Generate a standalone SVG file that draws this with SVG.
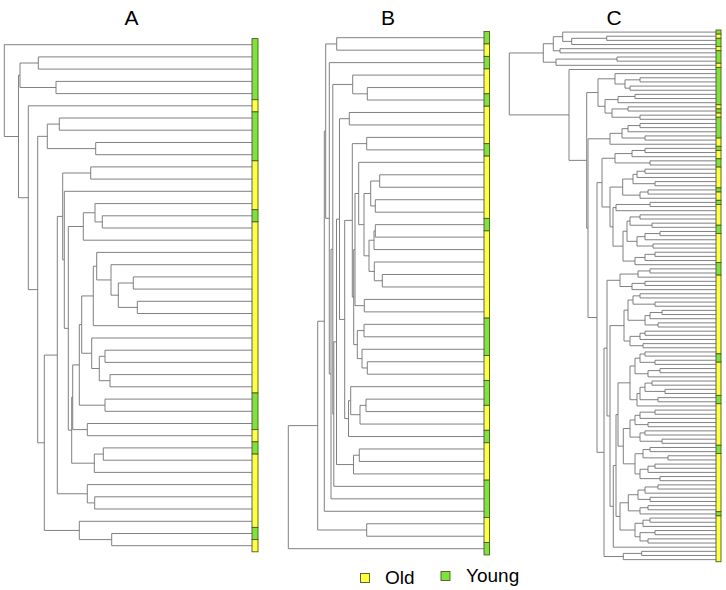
<svg xmlns="http://www.w3.org/2000/svg" width="726" height="590" viewBox="0 0 726 590">
<style>
.t{fill:none;stroke:#737373;stroke-width:0.9}
.y{fill:#ffff45;stroke:#4d5a1e;stroke-width:0.9}
.g{fill:#80e23e;stroke:#4d5a1e;stroke-width:0.9}
.lbl{font-family:"Liberation Sans",Arial,sans-serif;fill:#000}
</style>
<rect width="726" height="590" fill="#fff"/>
<g id="titles" class="lbl" font-size="21" text-anchor="middle">
<text x="131.5" y="25">A</text>
<text x="388" y="25">B</text>
<text x="614" y="25">C</text>
</g>
<g id="connectors">
<g id="tree-A" class="t">
<path d="M252 44.7H4.3V136.5H18.5M20 75.25H18.5V197.7H28.3M38.3 63H20V87.5H56M252 56.9H38.3V69.1H252M252 81.4H56V93.6H252M252 105.8H28.3V289.6H37.7M47.3 136.35H37.7V442.8H44.3M59.3 124.1H47.3V148.6H95.7M252 118H59.3V130.2H252M252 142.5H95.7V154.7H252M57.3 355.1H44.3V530.45H79.3M252 521.3H79.3V539.6H111.7M252 533.5H111.7V545.7H252M62.7 216.4H57.3V493.75H87.3M252 484.6H87.3V502.9H94.7M252 496.8H94.7V509H252M90.7 173H62.7V259.8H64.3M252 166.9H90.7V179.1H252M252 191.3H64.3V328.35H68.3M83.3 226.5H68.3V430.2H71.7M95 212.75H83.3V240.2H252M252 203.6H95V221.9H102.3M252 215.8H102.3V228H252M72.7 397.25H71.7V463.2H94.3M79.3 364.9H72.7V429.6H87.3M252 423.5H87.3V435.7H252M81.7 324.6H79.3V405.2H105M252 399.1H105V411.3H252M93.3 295.95H81.7V353.25H91.7M96.7 266.2H93.3V325.7H252M252 252.4H96.7V279.95H111M252 264.7H111V295.2H118.3M133.3 283H118.3V307.4H137.3M252 276.9H133.3V289.1H252M252 301.3H137.3V313.5H252M252 338H91.7V368.5H99.3M105 356.3H99.3V380.7H110M252 350.2H105V362.4H252M252 374.6H110V386.8H252M103.3 454.05H94.3V472.4H252M252 447.9H103.3V460.2H252"/>
</g>
<g id="tree-B" class="t">
<path d="M317.7 425.6H288.3V548.68H484M324.3 321.22H317.7V529.99H366.7M484 523.76H366.7V536.22H484M325.7 131.14H324.3V511.29H484M336.7 43.93H325.7V218.34H329.3M484 37.7H336.7V50.16H484M484 62.63H329.3V374.05H331M332.8 249.27H331V498.83H484M352.7 84.44H332.8V414.1H333.8M484 75.09H352.7V93.79H367.3M484 87.55H367.3V100.02H484M336.5 341.83H333.8V486.37H484M339.5 219.1H336.5V464.56H353.5M359.3 455.21H353.5V473.91H484M484 448.98H359.3V461.44H484M349.3 118.71H339.5V319.48H344.7M484 112.48H349.3V124.94H484M352.3 220.36H344.7V418.6H348.5M366.7 143.64H352.3V297.09H353.7M484 137.4H366.7V149.87H484M355 249.57H353.7V344.6H357.3M358.7 193.49H355V305.66H364.3M484 299.42H364.3V311.89H484M484 162.33H358.7V224.65H364M370.7 193.49H364V255.8H369M379.7 181.03H370.7V205.95H375.3M484 174.79H379.7V187.26H484M484 199.72H375.3V212.18H484M374 240.23H369V271.38H374.3M375.3 230.88H374V249.57H484M484 224.65H375.3V237.11H484M484 262.03H374.3V280.73H382.3M484 274.5H382.3V286.96H484M364 330.58H357.3V358.62H362M484 324.35H364V336.81H484M484 349.28H362V367.97H367.3M484 361.74H367.3V374.2H484M350.7 400.68H348.5V436.52H484M484 386.66H350.7V414.7H360M366 405.36H360V424.05H484M484 399.13H366V411.59H484"/>
</g>
<g id="tree-C" class="t">
<path d="M716 36.23H606.7V40.39H716M606.7 38.31H571.7V44.54H716M716 32.08H562.7V41.4H571.7M716 48.7H560V52.85H716M562.7 36.7H553.3V50.78H560M716 57H617V61.16H716M617 59.08H556V65.31H716M553.3 43.74H543.3V62.2H556M543.3 52.97H509.3V114.9H569M716 69.47H569V160.36H586.7M598 92.57H586.7V228.15H588M615 78.81H598V106.33H605M716 73.62H615V84H625M640 79.85H625V88.16H630M716 77.77H640V81.93H716M716 86.08H630V90.24H716M618 99.58H605V113.08H612M635 96.47H618V102.7H716M716 94.39H635V98.54H716M628 108.93H612V117.24H640M716 106.85H628V111.01H716M716 115.16H640V119.31H716"/>
<path d="M610 138.8H588V317.5H597M622 133.33H610V144.24H716M628 128.66H622V138H645M640 125.55H628V131.78H716M716 123.47H640V127.62H716M716 135.93H645V140.08H716M602 182.62H597V452.33H604M615 158.26H602V206.98H610M632 153.58H615V162.93H650M645 150.47H632V156.7H716M716 148.39H645V152.55H716M716 160.85H650V165.01H716M622.7 187.08H610V226.87H613M633 179.03H622.7V195.13H640M637 174.36H633V183.7H655M645 171.24H637V177.47H716M716 169.16H645V173.32H716M716 181.62H655V185.78H716M648 192.01H640V198.24H716M716 189.93H648V194.09H716M616 207.59H613V246.15H623M650 204.47H616V210.7H716M716 202.39H650V206.55H716M627 231.22H623V261.07H635M630 221.09H627V241.34H637M640 216.94H630V225.24H652M716 214.86H640V219.01H716M716 223.16H652V227.32H716M645 236.67H637V246.01H653M660 233.55H645V239.78H716M716 231.47H660V235.63H716M716 243.93H653V248.09H716M645 257.44H635V264.7H716M655 254.32H645V260.55H716M716 252.24H655V256.4H716"/>
<path d="M607 348.13H604V556.52H623.3M620 280.29H607V415.96H610M638 274.06H620V286.52H632M650 270.94H638V277.17H716M716 268.86H650V273.01H716M645 283.4H632V289.63H716M716 281.32H645V285.47H716M624 325.6H610V506.32H613.3M628 310.15H624V341.04H630M633 300.02H628V320.27H645M640 295.86H633V304.17H655M716 293.78H640V297.94H716M716 302.09H655V306.24H716M650 315.6H645V324.94H658M662 312.48H650V318.71H716M716 310.4H662V314.55H716M716 322.86H658V327.01H716M640 336.37H630V345.71H643M645 333.25H640V339.48H716M716 331.17H645V335.32H716M716 343.63H643V347.78H716"/>
<path d="M616 465.46H613.3V547.18H716M618 414.51H616V516.41H620M630 382.84H618V446.18H623.3M635 365.97H630V399.71H637M640 358.18H635V373.75H648M645 354.02H640V362.33H655M716 351.94H645V356.09H716M716 360.25H655V364.4H716M660 370.63H648V376.86H716M716 368.55H660V372.71H716M640 393.48H637V405.94H716M645 387.25H640V399.71H658M652 383.1H645V391.4H665M716 381.02H652V385.17H716M716 389.32H665V393.48H716M716 397.63H658V401.79H716M630 428.53H623.3V463.84H635M635 419.96H630V437.1H640M640 415.29H635V424.64H648M655 412.17H640V418.4H716M716 410.09H655V414.25H716M716 422.56H648V426.71H716M645 432.94H640V441.25H662M716 430.86H645V435.02H716M716 439.17H662V443.33H716M643 453.71H635V473.96H640M650 449.56H643V457.87H668M716 447.48H650V451.63H716M716 455.79H668V459.94H716M648 469.29H640V478.64H660M655 466.18H648V472.4H716M716 464.1H655V468.25H716M716 476.56H660V480.71H716M628.3 502.78H620V530.04H635M638 494.73H628.3V510.83H640M645 490.06H638V499.4H650M658 486.95H645V493.17H716M716 484.87H658V489.02H716M716 497.33H650V501.48H716M648 507.71H640V513.94H716M716 505.64H648V509.79H716M643 523.29H635V536.79H640M650 520.18H643V526.41H716M716 518.1H650V522.25H716M655 532.64H640V540.95H648M716 530.56H655V534.71H716M716 538.87H648V543.02H716M641.7 553.41H623.3V559.64H716M716 551.33H641.7V555.48H716"/>
</g>
</g>
<g id="bar-A">
<rect class="g" x="252" y="38.6" width="6" height="61.1"/>
<rect class="y" x="252" y="99.7" width="6" height="12.2"/>
<rect class="g" x="252" y="111.9" width="6" height="48.9"/>
<rect class="y" x="252" y="160.8" width="6" height="48.9"/>
<rect class="g" x="252" y="209.7" width="6" height="12.2"/>
<rect class="y" x="252" y="221.9" width="6" height="171.1"/>
<rect class="g" x="252" y="393" width="6" height="36.6"/>
<rect class="y" x="252" y="429.6" width="6" height="12.2"/>
<rect class="g" x="252" y="441.8" width="6" height="12.3"/>
<rect class="y" x="252" y="454.1" width="6" height="73.3"/>
<rect class="g" x="252" y="527.4" width="6" height="12.2"/>
<rect class="y" x="252" y="539.6" width="6" height="12.2"/>
</g>
<g id="bar-B">
<rect class="g" x="484" y="31.47" width="5.5" height="12.46"/>
<rect class="y" x="484" y="43.93" width="5.5" height="12.47"/>
<rect class="g" x="484" y="56.4" width="5.5" height="12.46"/>
<rect class="y" x="484" y="68.86" width="5.5" height="24.93"/>
<rect class="g" x="484" y="93.79" width="5.5" height="12.46"/>
<rect class="y" x="484" y="106.25" width="5.5" height="37.39"/>
<rect class="g" x="484" y="143.64" width="5.5" height="12.46"/>
<rect class="y" x="484" y="156.1" width="5.5" height="62.31"/>
<rect class="g" x="484" y="218.41" width="5.5" height="12.47"/>
<rect class="y" x="484" y="230.88" width="5.5" height="87.24"/>
<rect class="g" x="484" y="318.12" width="5.5" height="37.39"/>
<rect class="y" x="484" y="355.51" width="5.5" height="24.92"/>
<rect class="g" x="484" y="380.43" width="5.5" height="24.93"/>
<rect class="y" x="484" y="405.36" width="5.5" height="24.93"/>
<rect class="g" x="484" y="430.29" width="5.5" height="12.46"/>
<rect class="y" x="484" y="442.75" width="5.5" height="37.39"/>
<rect class="g" x="484" y="480.14" width="5.5" height="37.39"/>
<rect class="y" x="484" y="517.53" width="5.5" height="24.92"/>
<rect class="g" x="484" y="542.45" width="5.5" height="12.46"/>
</g>
<g id="bar-C">
<rect class="g" x="716" y="30" width="5" height="4.15"/>
<rect class="y" x="716" y="34.15" width="5" height="4.16"/>
<rect class="g" x="716" y="38.31" width="5" height="8.31"/>
<rect class="y" x="716" y="46.62" width="5" height="4.15"/>
<rect class="g" x="716" y="50.77" width="5" height="12.46"/>
<rect class="y" x="716" y="63.23" width="5" height="4.16"/>
<rect class="g" x="716" y="67.39" width="5" height="37.38"/>
<rect class="y" x="716" y="104.77" width="5" height="4.16"/>
<rect class="g" x="716" y="108.93" width="5" height="4.15"/>
<rect class="y" x="716" y="113.08" width="5" height="4.16"/>
<rect class="g" x="716" y="117.24" width="5" height="20.77"/>
<rect class="y" x="716" y="138.01" width="5" height="8.31"/>
<rect class="g" x="716" y="146.32" width="5" height="4.15"/>
<rect class="y" x="716" y="150.47" width="5" height="8.31"/>
<rect class="g" x="716" y="158.78" width="5" height="8.31"/>
<rect class="y" x="716" y="167.09" width="5" height="20.77"/>
<rect class="g" x="716" y="187.86" width="5" height="4.15"/>
<rect class="y" x="716" y="192.01" width="5" height="8.31"/>
<rect class="g" x="716" y="200.32" width="5" height="4.15"/>
<rect class="y" x="716" y="204.47" width="5" height="20.77"/>
<rect class="g" x="716" y="225.24" width="5" height="8.31"/>
<rect class="y" x="716" y="233.55" width="5" height="29.08"/>
<rect class="g" x="716" y="262.63" width="5" height="12.46"/>
<rect class="y" x="716" y="275.09" width="5" height="78.77"/>
<rect class="g" x="716" y="353.86" width="5" height="8.31"/>
<rect class="y" x="716" y="362.17" width="5" height="33.23"/>
<rect class="g" x="716" y="395.4" width="5" height="8.31"/>
<rect class="y" x="716" y="403.71" width="5" height="41.54"/>
<rect class="g" x="716" y="445.25" width="5" height="8.3"/>
<rect class="y" x="716" y="453.55" width="5" height="58.16"/>
<rect class="g" x="716" y="511.71" width="5" height="4.15"/>
<rect class="y" x="716" y="515.86" width="5" height="45.84"/>
</g>
<g id="legend" class="lbl">
<rect class="y" x="360.5" y="573.5" width="9" height="9"/>
<text x="385" y="584" font-size="19">Old</text>
<rect class="g" x="441" y="571.5" width="9" height="9"/>
<text x="466" y="582" font-size="19">Young</text>
</g>
</svg>
